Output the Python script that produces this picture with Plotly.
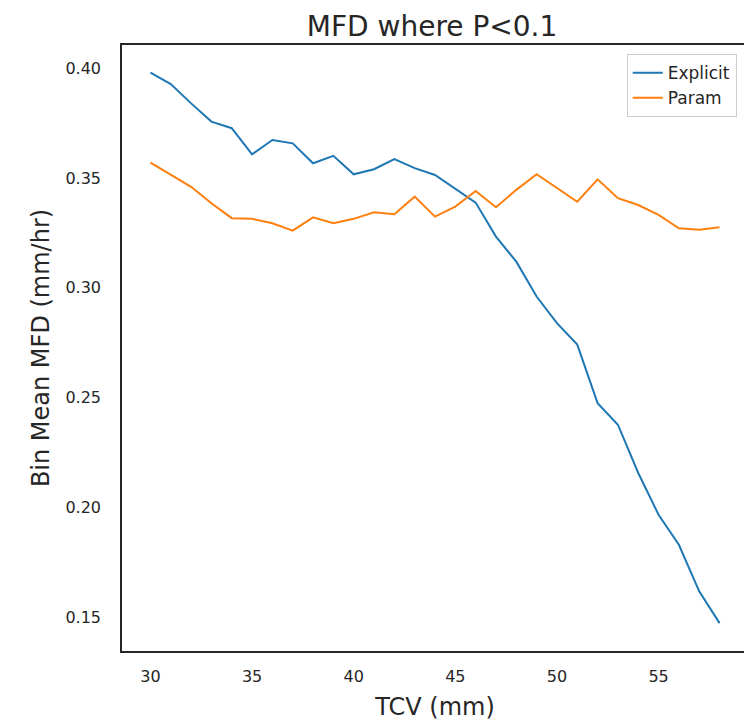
import plotly.graph_objects as go

tcv = list(range(30, 59))
explicit = [0.398, 0.3928, 0.3840, 0.3757, 0.3727, 0.3608, 0.3673, 0.3658, 0.3567, 0.3601,
            0.3517, 0.3540, 0.3586, 0.3545, 0.3514, 0.3449, 0.3388, 0.3233, 0.3119, 0.2960,
            0.2839, 0.2741, 0.2474, 0.2376, 0.2156, 0.1966, 0.1829, 0.1617, 0.1472]
param = [0.3570, 0.3514, 0.3460, 0.3385, 0.3317, 0.3314, 0.3294, 0.3260, 0.3321, 0.3294,
         0.3314, 0.3344, 0.3335, 0.3415, 0.3324, 0.3370, 0.3441, 0.3367, 0.3446, 0.3517,
         0.3453, 0.3392, 0.3494, 0.3408, 0.3377, 0.3332, 0.3271, 0.3264, 0.3276]
x_ticks = [30, 35, 40, 45, 50, 55]
y_ticks = [0.15, 0.20, 0.25, 0.30, 0.35, 0.40]

FONT = "DejaVu Sans"
DARK = "#262626"

fig = go.Figure()
fig.add_trace(go.Scatter(x=tcv, y=explicit, mode="lines", name="Explicit",
                         line=dict(color="#1f77b4", width=2)))
fig.add_trace(go.Scatter(x=tcv, y=param, mode="lines", name="Param",
                         line=dict(color="#ff7f0e", width=2)))

fig.update_layout(
    width=744, height=713,
    margin=dict(l=114, r=4, t=37, b=70, autoexpand=False),
    paper_bgcolor="white", plot_bgcolor="white",
    font=dict(family=FONT, color=DARK, size=16),
    title=dict(text="MFD where P<0.1", x=0.570, xanchor="center", y=0.975, yanchor="middle",
               font=dict(size=28, color=DARK, family=FONT)),
    showlegend=True,
    legend=dict(x=0.982, y=0.985, xanchor="right", yanchor="top",
                bgcolor="rgba(255,255,255,0.8)", bordercolor="#cccccc", borderwidth=1,
                font=dict(size=17, color=DARK, family=FONT)),
    xaxis=dict(range=[28.6, 59.4], tickvals=x_ticks, showgrid=False, zeroline=False,
               showline=True, mirror=True, linecolor=DARK, linewidth=1.5, ticks="",
               ticklabelstandoff=10, tickfont=dict(size=16, color=DARK),
               title=dict(text="TCV (mm)", font=dict(size=24, color=DARK), standoff=15)),
    yaxis=dict(range=[0.1345, 0.4106], tickvals=y_ticks, tickformat=".2f", showgrid=False,
               zeroline=False, showline=True, mirror=True, linecolor=DARK, linewidth=1.5,
               ticks="", ticklabelstandoff=16, tickfont=dict(size=16, color=DARK),
               title=dict(text="Bin Mean MFD (mm/hr)", font=dict(size=24, color=DARK), standoff=9)),
)

fig.add_shape(type="line", xref="paper", yref="paper", x0=-0.19, x1=-0.19, y0=0.04, y1=1.0,
              line=dict(color="#e4e4e4", width=1))

fig.write_html("out.html")
